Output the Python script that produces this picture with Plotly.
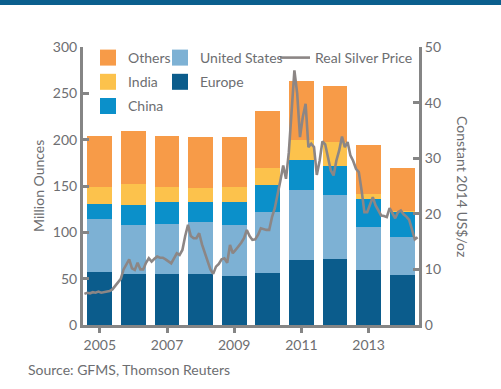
import plotly.graph_objects as go

years = [2005, 2006, 2007, 2008, 2009, 2010, 2011, 2012, 2013, 2014]
europe = [57, 55, 55, 55, 53, 56, 70, 71, 59, 54]
united_states = [57, 53, 54.5, 56, 54.5, 65.5, 76, 69, 47, 41]
china = [17, 21, 23, 22, 25, 30, 32, 32, 30, 27.5]
india = [18, 23, 16, 15, 16, 18, 22, 25, 5, 1]
others = [55, 57, 56, 55, 54, 61, 63, 61, 53, 46]

# monthly real silver price (constant 2014 US$/oz), Jan 2005 .. Dec 2014
price = [
    5.6, 5.8, 5.7, 5.9, 5.8, 6.0, 5.8, 5.9, 6.0, 6.1, 6.4, 7.0,
    7.6, 8.3, 10.0, 11.0, 11.8, 10.2, 9.9, 11.2, 10.0, 10.0, 11.2, 12.0,
    11.4, 11.9, 12.3, 12.1, 12.1, 11.8, 11.5, 11.1, 12.0, 12.9, 12.6, 13.5,
    16.0, 18.0, 16.0, 15.6, 15.6, 16.5, 14.5, 12.9, 11.2, 10.0, 9.2, 10.5,
    11.0, 11.8, 12.0, 11.2, 14.4, 12.9, 13.5, 14.1, 14.8, 15.6, 17.1, 16.0,
    15.3, 15.4, 16.2, 17.4, 17.2, 17.1, 17.1, 19.4, 21.0, 23.3, 26.0, 28.7,
    26.3, 31.0, 38.6, 45.8, 41.6, 33.8, 37.4, 39.8, 32.0, 32.6, 32.0, 27.0,
    29.5, 33.0, 32.5, 30.0, 27.8, 26.9, 29.6, 31.4, 33.9, 32.0, 32.9, 30.5,
    29.5, 28.1, 27.5, 24.2, 20.3, 20.3, 21.5, 23.0, 21.5, 20.6, 19.7, 19.6,
    19.4, 21.0, 20.1, 19.2, 20.3, 20.6, 19.9, 19.5, 18.9, 17.0, 15.4, 15.8,
]
price_x = [y - 0.5 + (m + 0.5) / 12 for y in years for m in range(12)]

tick_years = [2005, 2007, 2009, 2011, 2013]
left_ticks = [0, 50, 100, 150, 200, 250, 300]
right_ticks = [0, 10, 20, 30, 40, 50]

C_OTHERS = "#F79B48"
C_INDIA = "#FCC24C"
C_CHINA = "#0B90CA"
C_US = "#7DB1D4"
C_EUROPE = "#0B5C8C"
C_LINE = "#8C8685"
C_TEXT = "#6D6E71"
C_AXIS = "#858585"

FONT = "Lato"

fig = go.Figure()
for name, vals, col in [("Europe", europe, C_EUROPE), ("United States", united_states, C_US),
                        ("China", china, C_CHINA), ("India", india, C_INDIA),
                        ("Others", others, C_OTHERS)]:
    fig.add_trace(go.Bar(x=years, y=vals, name=name, marker=dict(color=col, line=dict(width=0)),
                         width=0.74, showlegend=False))

fig.add_trace(go.Scatter(x=price_x, y=price, yaxis="y2", mode="lines", name="Real Silver Price",
                         line=dict(color=C_LINE, width=2.6), legend="legend3"))

# legend entries (square swatches)
for name, col, lg in [("Others", C_OTHERS, "legend"), ("India", C_INDIA, "legend"),
                      ("China", C_CHINA, "legend"), ("United States", C_US, "legend2"),
                      ("Europe", C_EUROPE, "legend2")]:
    fig.add_trace(go.Scatter(x=[None], y=[None], mode="markers", name=name, legend=lg,
                             legendgroup=name,
                             marker=dict(symbol="square", size=16, color=col)))

leg_common = dict(font=dict(family=FONT, size=14, color=C_TEXT), bgcolor="rgba(0,0,0,0)",
                  yanchor="top", xanchor="left", itemsizing="trace", tracegroupgap=3,
                  traceorder="grouped")

def px2x(px):
    return (px - 83) / 336

def px2y(py):
    return (325 - py) / 278

fig.update_layout(
    width=501, height=389,
    margin=dict(l=83, r=82, t=47, b=64),
    paper_bgcolor="white", plot_bgcolor="white",
    barmode="stack", bargap=0,
    font=dict(family=FONT, size=14, color=C_TEXT),
    xaxis=dict(range=[2004.5, 2014.5], tickvals=tick_years, ticktext=[str(t) for t in tick_years],
               showgrid=False, zeroline=False, showline=True, linecolor=C_AXIS, linewidth=3,
               ticks="outside", ticklen=5, tickwidth=3, tickcolor=C_AXIS,
               tickfont=dict(family=FONT, size=14, color=C_TEXT)),
    yaxis=dict(range=[0, 300], tickvals=left_ticks, showgrid=False, zeroline=False,
               showline=True, linecolor=C_AXIS, linewidth=3, ticks="inside", ticklen=6,
               tickwidth=3, tickcolor=C_AXIS, tickfont=dict(family=FONT, size=14, color=C_TEXT)),
    yaxis2=dict(range=[0, 50], tickvals=right_ticks, overlaying="y", side="right",
                showgrid=False, zeroline=False, showline=True, linecolor=C_AXIS, linewidth=3,
                ticks="inside", ticklen=6, tickwidth=3, tickcolor=C_AXIS,
                tickfont=dict(family=FONT, size=14, color=C_TEXT)),
    legend=dict(x=px2x(88), y=px2y(42), **leg_common),
    legend2=dict(x=px2x(160), y=px2y(42), **leg_common),
    legend3=dict(x=px2x(275), y=px2y(42), **leg_common),
    shapes=[dict(type="rect", xref="paper", yref="paper", x0=px2x(0), x1=px2x(501),
                 y0=px2y(5), y1=px2y(0), fillcolor="#0B5F8E", line=dict(width=0), layer="above")],
    annotations=[
        dict(text="Million Ounces", xref="paper", yref="paper", x=px2x(38), y=0.5,
             textangle=-90, showarrow=False, xanchor="center", yanchor="middle",
             font=dict(family=FONT, size=14, color=C_TEXT)),
        dict(text="Constant 2014 US$/oz", xref="paper", yref="paper", x=px2x(463), y=0.5,
             textangle=90, showarrow=False, xanchor="center", yanchor="middle",
             font=dict(family=FONT, size=14, color=C_TEXT)),
        dict(text="Source: GFMS, Thomson Reuters", xref="paper", yref="paper", x=px2x(26),
             y=px2y(370), showarrow=False, xanchor="left", yanchor="middle",
             font=dict(family=FONT, size=14, color=C_TEXT)),
    ],
)

fig.write_html("out.html", config={"displayModeBar": False},
               post_script="document.body.style.margin='0';")
